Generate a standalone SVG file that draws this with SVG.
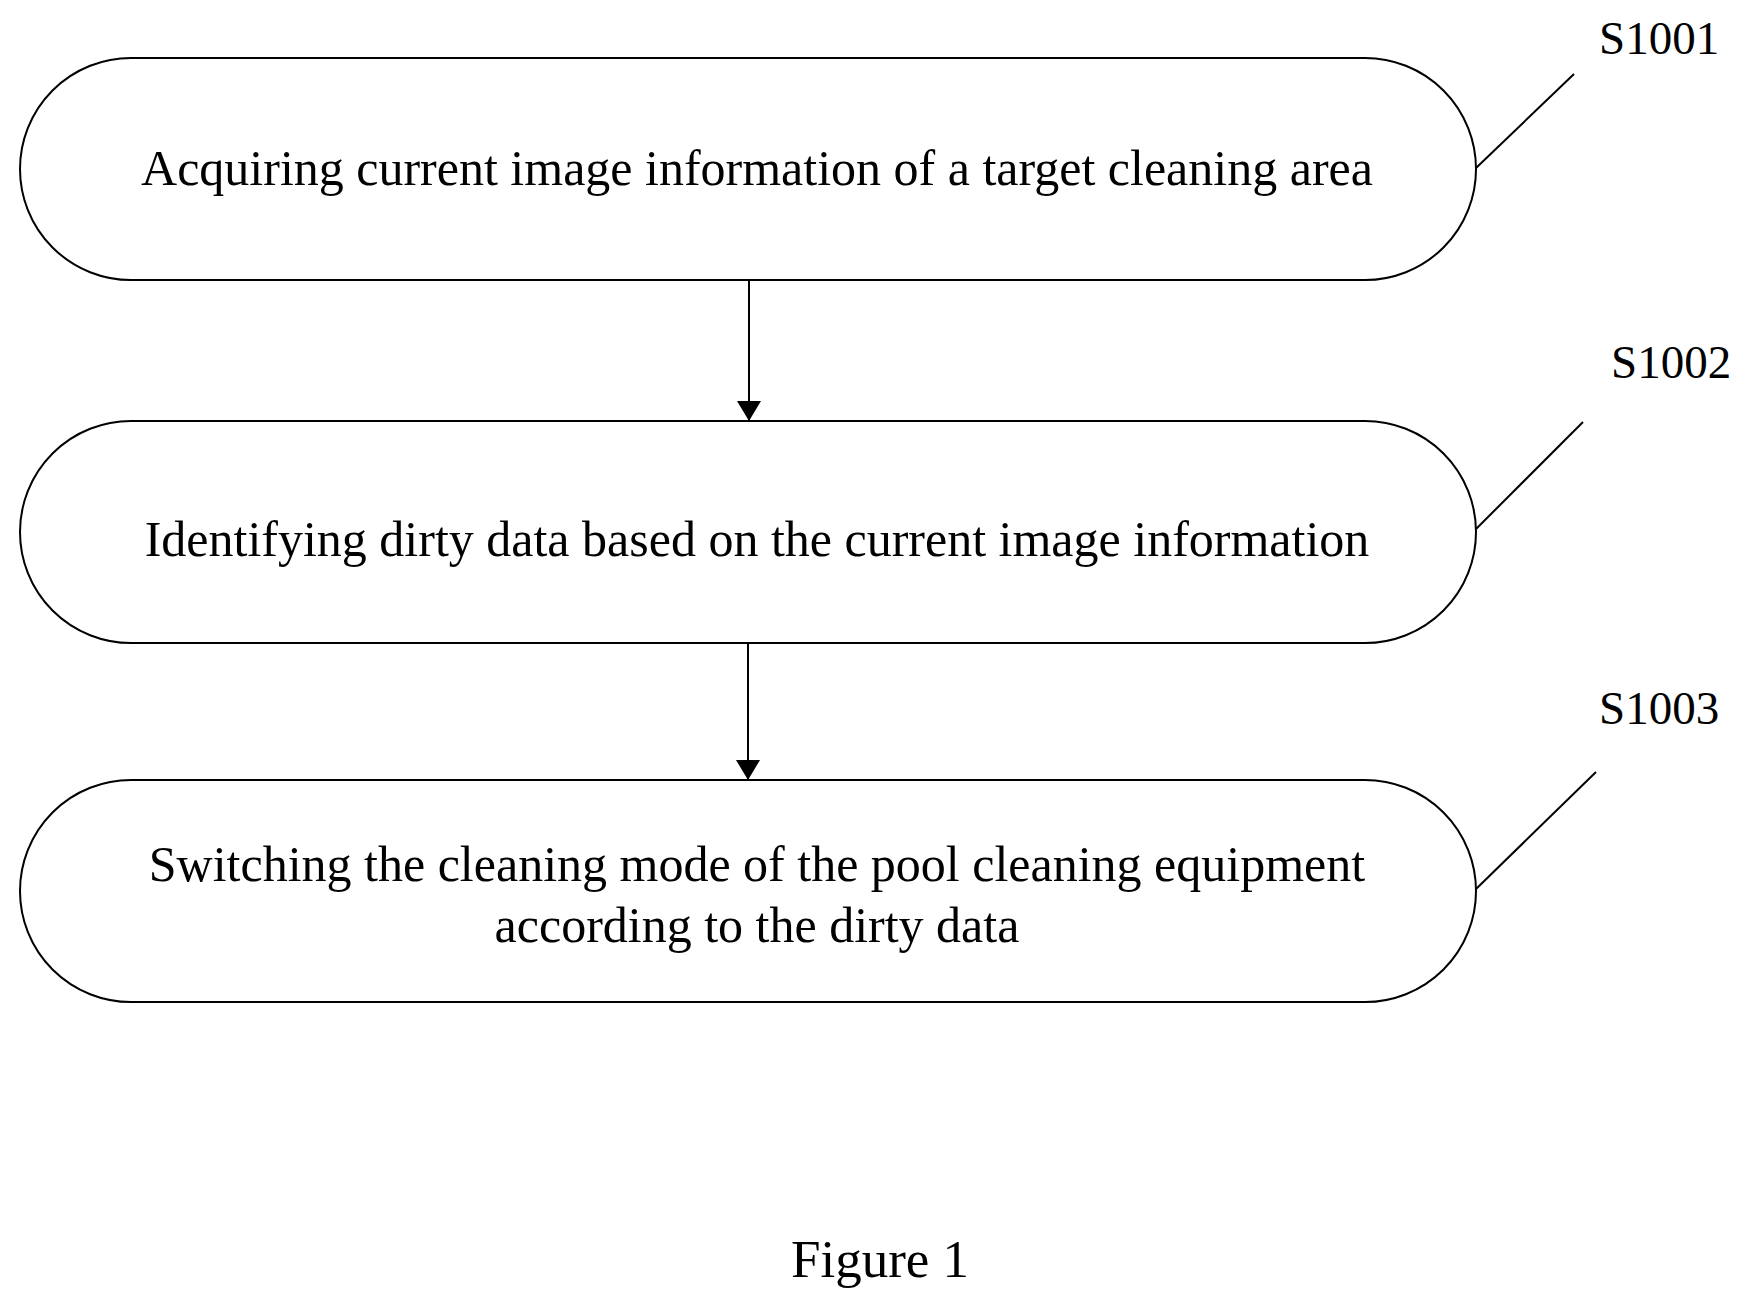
<svg xmlns="http://www.w3.org/2000/svg" width="1746" height="1305" viewBox="0 0 1746 1305">
<defs>
<marker id="ah" markerWidth="20" markerHeight="24" refX="20" refY="12" orient="auto" markerUnits="userSpaceOnUse"><path d="M0,0 L20,12 L0,24 Z" fill="#000"/></marker>
<style>
.n{fill:#fff;stroke:#000;stroke-width:2}
.t{font-family:"Liberation Serif",serif;font-size:50px;text-anchor:middle;fill:#000}
.l{font-family:"Liberation Serif",serif;font-size:47px;fill:#000}
.c{stroke:#000;stroke-width:2;fill:none}
</style>
</defs>
<rect width="1746" height="1305" fill="#fff"/>
<g id="node1"><rect class="n" x="20" y="58" width="1456" height="222" rx="111"/><text class="t" x="757" y="185">Acquiring current image information of a target cleaning area</text></g>
<g id="node2"><rect class="n" x="20" y="421" width="1456" height="222" rx="111"/><text class="t" x="757" y="556">Identifying dirty data based on the current image information</text></g>
<g id="node3"><rect class="n" x="20" y="780" width="1456" height="222" rx="111"/><text class="t" x="757" y="881">Switching the cleaning mode of the pool cleaning equipment</text><text class="t" x="757" y="942">according to the dirty data</text></g>
<g id="labels"><text class="l" x="1599" y="54">S1001</text><text class="l" x="1611" y="378">S1002</text><text class="l" x="1599" y="724">S1003</text></g>
<g id="connectors">
<line class="c" x1="749" y1="280" x2="749" y2="421" marker-end="url(#ah)"/>
<line class="c" x1="748" y1="643" x2="748" y2="780" marker-end="url(#ah)"/>
<line class="c" x1="1476" y1="168" x2="1574" y2="74"/>
<line class="c" x1="1476" y1="529" x2="1583" y2="422"/>
<line class="c" x1="1476" y1="889" x2="1596" y2="772"/>
</g>
<text x="880" y="1277" style="font-family:'Liberation Serif',serif;font-size:53px;text-anchor:middle">Figure 1</text>
</svg>
